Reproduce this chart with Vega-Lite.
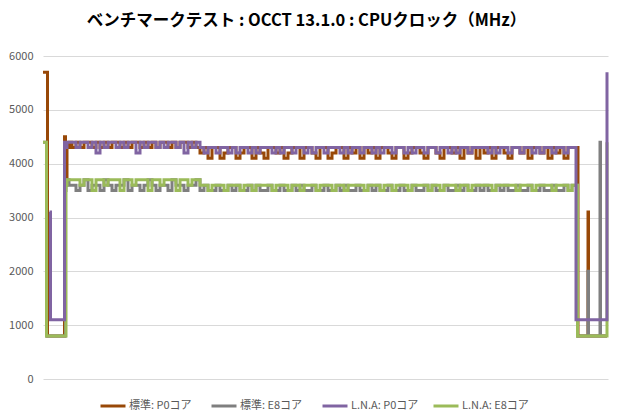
{
  "$schema": "https://vega.github.io/schema/vega-lite/v6.json",
  "autosize": "none",
  "width": 565,
  "height": 323,
  "padding": {"left": 43, "top": 56, "right": 12, "bottom": 41},
  "title": {"text": "ベンチマークテスト : OCCT 13.1.0 : CPUクロック（MHz）", "fontSize": 16.5, "fontWeight": "bold", "font": "Noto Sans CJK JP", "color": "#000000", "anchor": "middle", "dx": -19, "offset": 21},
  "config": {"view": {"stroke": null}, "font": "Noto Sans CJK JP"},
  "data": {"values": [
    {"t":0,"a":5700,"b":4400,"d":4400},
    {"t":3,"a":5700,"b":4400,"d":4400},
    {"t":3.5,"a":5700,"b":800,"d":800},
    {"t":4,"a":5700,"b":800,"d":800},
    {"t":4.5,"a":800,"b":800,"d":800},
    {"t":6.5,"a":800,"b":800,"c":3100,"d":800},
    {"t":7.5,"a":800,"b":800,"c":1100,"d":800},
    {"t":21,"a":800,"b":800,"c":1100,"d":800},
    {"t":21.5,"a":4500,"b":800,"c":4400,"d":800},
    {"t":22.5,"a":4300,"b":3500,"c":4300,"d":800},
    {"t":23,"a":3700,"b":3600,"c":4300,"d":3600},
    {"t":24,"a":4300,"b":3700,"c":4400,"d":3700},
    {"t":26,"a":4400,"b":3600,"c":4400,"d":3700},
    {"t":29,"a":4300,"b":3600,"c":4400,"d":3700},
    {"t":33,"a":4400,"b":3500,"c":4300,"d":3700},
    {"t":37,"a":4300,"b":3600,"c":4400,"d":3600},
    {"t":41,"a":4400,"b":3700,"c":4400,"d":3700},
    {"t":45,"a":4400,"b":3500,"c":4300,"d":3700},
    {"t":49,"a":4300,"b":3600,"c":4400,"d":3500},
    {"t":53,"a":4400,"b":3600,"c":4200,"d":3700},
    {"t":57,"a":4300,"b":3500,"c":4400,"d":3700},
    {"t":61,"a":4400,"b":3700,"c":4300,"d":3600},
    {"t":65,"a":4300,"b":3600,"c":4400,"d":3700},
    {"t":69,"a":4400,"b":3500,"c":4400,"d":3700},
    {"t":73,"a":4400,"b":3600,"c":4300,"d":3700},
    {"t":77,"a":4300,"b":3600,"c":4400,"d":3500},
    {"t":81,"a":4400,"b":3700,"c":4300,"d":3700},
    {"t":85,"a":4300,"b":3500,"c":4400,"d":3700},
    {"t":89,"a":4400,"b":3600,"c":4400,"d":3600},
    {"t":93,"a":4400,"b":3600,"c":4200,"d":3700},
    {"t":97,"a":4300,"b":3500,"c":4400,"d":3700},
    {"t":101,"a":4400,"b":3600,"c":4300,"d":3700},
    {"t":105,"a":4300,"b":3700,"c":4400,"d":3500},
    {"t":109,"a":4400,"b":3600,"c":4400,"d":3700},
    {"t":113,"a":4300,"b":3500,"c":4300,"d":3700},
    {"t":117,"a":4400,"b":3600,"c":4400,"d":3600},
    {"t":121,"a":4400,"b":3600,"c":4300,"d":3700},
    {"t":125,"a":4300,"b":3500,"c":4400,"d":3700},
    {"t":129,"a":4400,"b":3700,"c":4400,"d":3700},
    {"t":133,"a":4300,"b":3600,"c":4300,"d":3500},
    {"t":137,"a":4400,"b":3600,"c":4400,"d":3700},
    {"t":141,"a":4400,"b":3500,"c":4200,"d":3700},
    {"t":145,"a":4300,"b":3600,"c":4400,"d":3600},
    {"t":149,"a":4400,"b":3600,"c":4300,"d":3700},
    {"t":153,"a":4300,"b":3700,"c":4400,"d":3700},
    {"t":157,"a":4200,"b":3500,"c":4300,"d":3600},
    {"t":161,"a":4300,"b":3600,"c":4200,"d":3600},
    {"t":165,"a":4100,"b":3500,"c":4300,"d":3500},
    {"t":169,"a":4300,"b":3500,"c":4300,"d":3600},
    {"t":173,"a":4300,"b":3600,"c":4200,"d":3600},
    {"t":177,"a":4100,"b":3500,"c":4300,"d":3600},
    {"t":181,"a":4200,"b":3500,"c":4300,"d":3500},
    {"t":185,"a":4300,"b":3600,"c":4200,"d":3600},
    {"t":189,"a":4300,"b":3500,"c":4300,"d":3600},
    {"t":193,"a":4100,"b":3600,"c":4200,"d":3600},
    {"t":197,"a":4200,"b":3500,"c":4300,"d":3500},
    {"t":201,"a":4300,"b":3500,"c":4300,"d":3600},
    {"t":205,"a":4300,"b":3600,"c":4200,"d":3600},
    {"t":209,"a":4100,"b":3500,"c":4300,"d":3500},
    {"t":213,"a":4300,"b":3600,"c":4200,"d":3600},
    {"t":217,"a":4200,"b":3500,"c":4300,"d":3600},
    {"t":221,"a":4100,"b":3500,"c":4300,"d":3600},
    {"t":225,"a":4300,"b":3600,"c":4300,"d":3600},
    {"t":229,"a":4300,"b":3500,"c":4200,"d":3500},
    {"t":233,"a":4200,"b":3500,"c":4300,"d":3600},
    {"t":237,"a":4300,"b":3600,"c":4200,"d":3600},
    {"t":241,"a":4100,"b":3500,"c":4300,"d":3600},
    {"t":245,"a":4200,"b":3500,"c":4300,"d":3500},
    {"t":249,"a":4300,"b":3600,"c":4200,"d":3600},
    {"t":253,"a":4300,"b":3500,"c":4300,"d":3600},
    {"t":257,"a":4100,"b":3600,"c":4300,"d":3500},
    {"t":261,"a":4300,"b":3500,"c":4200,"d":3600},
    {"t":265,"a":4300,"b":3500,"c":4300,"d":3600},
    {"t":269,"a":4200,"b":3600,"c":4200,"d":3600},
    {"t":273,"a":4100,"b":3500,"c":4300,"d":3500},
    {"t":277,"a":4300,"b":3500,"c":4300,"d":3600},
    {"t":281,"a":4300,"b":3600,"c":4200,"d":3600},
    {"t":285,"a":4100,"b":3500,"c":4300,"d":3600},
    {"t":289,"a":4200,"b":3500,"c":4300,"d":3500},
    {"t":293,"a":4300,"b":3600,"c":4300,"d":3600},
    {"t":297,"a":4300,"b":3500,"c":4200,"d":3600},
    {"t":301,"a":4100,"b":3600,"c":4300,"d":3500},
    {"t":305,"a":4300,"b":3500,"c":4200,"d":3600},
    {"t":309,"a":4200,"b":3500,"c":4300,"d":3600},
    {"t":313,"a":4300,"b":3600,"c":4300,"d":3600},
    {"t":317,"a":4100,"b":3500,"c":4200,"d":3600},
    {"t":321,"a":4300,"b":3500,"c":4300,"d":3500},
    {"t":325,"a":4200,"b":3600,"c":4300,"d":3600},
    {"t":329,"a":4300,"b":3500,"c":4200,"d":3600},
    {"t":333,"a":4100,"b":3600,"c":4300,"d":3600},
    {"t":337,"a":4300,"b":3500,"c":4200,"d":3500},
    {"t":341,"a":4300,"b":3500,"c":4300,"d":3600},
    {"t":345,"a":4200,"b":3600,"c":4300,"d":3600},
    {"t":349,"a":4100,"b":3500,"c":4200,"d":3500},
    {"t":353,"a":4300,"b":3500,"c":4300,"d":3600},
    {"t":357,"a":4300,"b":3600,"c":4300,"d":3600},
    {"t":361,"a":4100,"b":3500,"c":4200,"d":3600},
    {"t":365,"a":4200,"b":3500,"c":4300,"d":3500},
    {"t":369,"a":4300,"b":3600,"c":4200,"d":3600},
    {"t":373,"a":4300,"b":3500,"c":4300,"d":3600},
    {"t":377,"a":4200,"b":3500,"c":4300,"d":3600},
    {"t":381,"a":4100,"b":3600,"c":4200,"d":3600},
    {"t":385,"a":4300,"b":3500,"c":4300,"d":3500},
    {"t":389,"a":4300,"b":3600,"c":4300,"d":3600},
    {"t":393,"a":4200,"b":3500,"c":4200,"d":3600},
    {"t":397,"a":4100,"b":3500,"c":4300,"d":3500},
    {"t":401,"a":4300,"b":3600,"c":4300,"d":3600},
    {"t":405,"a":4300,"b":3500,"c":4200,"d":3600},
    {"t":409,"a":4200,"b":3500,"c":4300,"d":3600},
    {"t":413,"a":4300,"b":3600,"c":4200,"d":3500},
    {"t":417,"a":4100,"b":3500,"c":4300,"d":3600},
    {"t":421,"a":4300,"b":3600,"c":4300,"d":3600},
    {"t":425,"a":4200,"b":3500,"c":4200,"d":3500},
    {"t":429,"a":4300,"b":3500,"c":4300,"d":3600},
    {"t":433,"a":4100,"b":3600,"c":4300,"d":3600},
    {"t":437,"a":4300,"b":3500,"c":4300,"d":3600},
    {"t":441,"a":4200,"b":3600,"c":4300,"d":3600},
    {"t":445,"a":4300,"b":3500,"c":4200,"d":3600},
    {"t":449,"a":4100,"b":3500,"c":4300,"d":3500},
    {"t":453,"a":4300,"b":3600,"c":4200,"d":3600},
    {"t":457,"a":4300,"b":3500,"c":4300,"d":3600},
    {"t":461,"a":4200,"b":3600,"c":4300,"d":3600},
    {"t":465,"a":4100,"b":3500,"c":4200,"d":3600},
    {"t":469,"a":4300,"b":3500,"c":4300,"d":3600},
    {"t":473,"a":4300,"b":3600,"c":4300,"d":3500},
    {"t":477,"a":4200,"b":3500,"c":4200,"d":3600},
    {"t":481,"a":4300,"b":3500,"c":4300,"d":3600},
    {"t":485,"a":4100,"b":3600,"c":4300,"d":3600},
    {"t":489,"a":4300,"b":3500,"c":4200,"d":3500},
    {"t":493,"a":4300,"b":3500,"c":4300,"d":3600},
    {"t":497,"a":4200,"b":3600,"c":4200,"d":3600},
    {"t":501,"a":4300,"b":3500,"c":4300,"d":3600},
    {"t":505,"a":4100,"b":3500,"c":4300,"d":3600},
    {"t":509,"a":4300,"b":3600,"c":4200,"d":3500},
    {"t":513,"a":4200,"b":3500,"c":4300,"d":3600},
    {"t":517,"a":4300,"b":3500,"c":4300,"d":3600},
    {"t":521,"a":4100,"b":3600,"c":4200,"d":3600},
    {"t":525,"a":4300,"b":3500,"c":4300,"d":3500},
    {"t":529,"a":4300,"b":3600,"c":4300,"d":3600},
    {"t":532,"a":4300,"b":3600,"c":4300,"d":3600},
    {"t":533,"a":4300,"b":3600,"c":1100,"d":3600},
    {"t":534,"a":4300,"b":3600,"c":1100,"d":3600},
    {"t":534.5,"a":4300,"b":800,"c":1100,"d":800},
    {"t":535,"a":800,"b":800,"c":1100,"d":800},
    {"t":544.5,"a":800,"b":800,"c":1100,"d":800},
    {"t":545,"a":3100,"b":2000,"c":1100,"d":800},
    {"t":545.5,"a":800,"b":800,"c":1100,"d":800},
    {"t":556.5,"a":800,"b":800,"c":1100,"d":800},
    {"t":557,"a":800,"b":4400,"c":1100,"d":800},
    {"t":557.5,"a":800,"b":800,"c":1100,"d":800},
    {"t":563.5,"a":800,"b":800,"c":1100,"d":800},
    {"t":564,"a":800,"b":800,"c":5700,"d":4400}
  ]},
  "transform": [
    {"fold": ["a", "b", "c", "d"], "as": ["k", "v"]},
    {"filter": "isValid(datum.v)"}
  ],
  "mark": {"type": "line", "strokeWidth": 3, "interpolate": "step-after", "strokeJoin": "miter", "strokeCap": "butt"},
  "encoding": {
    "x": {"field": "t", "type": "quantitative", "scale": {"domain": [0, 565], "nice": false, "zero": false}, "axis": null},
    "y": {"field": "v", "type": "quantitative", "scale": {"domain": [0, 6000], "nice": false},
      "axis": {"values": [0, 1000, 2000, 3000, 4000, 5000, 6000], "format": "d", "title": null, "domain": false, "ticks": false, "grid": true, "gridColor": "#d9d9d9", "gridWidth": 1, "labelColor": "#595959", "labelFontSize": 11, "labelPadding": 10, "labelFont": "Noto Sans CJK JP"}},
    "color": {"field": "k", "type": "nominal",
      "scale": {"domain": ["a", "b", "c", "d"], "range": ["#984807", "#7f7f7f", "#8064a2", "#9bbb59"]},
      "legend": {"title": null, "orient": "none", "legendX": 56, "legendY": 336, "direction": "horizontal", "columns": 4, "gridAlign": "all", "symbolType": "stroke", "symbolStrokeWidth": 3, "symbolSize": 625, "labelOffset": 2, "columnPadding": 8, "labelFontSize": 11, "labelColor": "#595959", "labelFont": "Noto Sans CJK JP",
        "labelExpr": "datum.label == 'a' ? '標準: P0コア' : datum.label == 'b' ? '標準: E8コア' : datum.label == 'c' ? 'L.N.A: P0コア' : 'L.N.A: E8コア'"}}
  }
}
